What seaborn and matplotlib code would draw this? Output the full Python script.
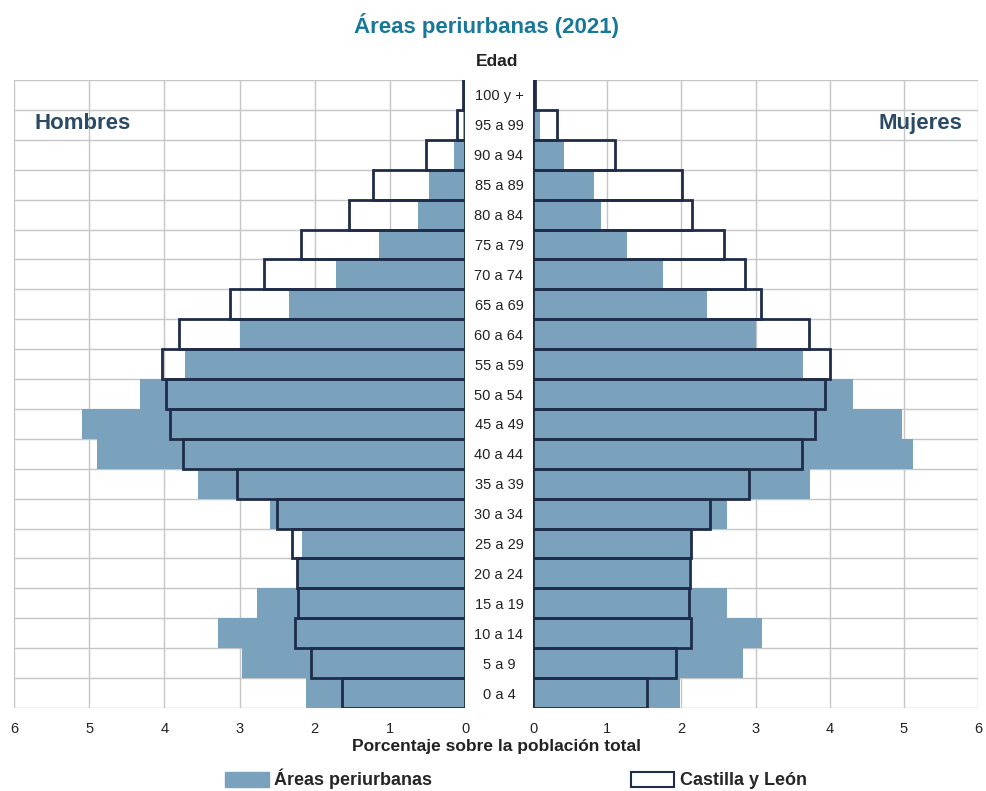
import pandas as pd
import matplotlib.pyplot as plt
import seaborn as sns
from matplotlib.patches import Patch

# Datos (porcentaje sobre la población total), de 100 y + a 0 a 4
edades = ['100 y +', '95 a 99', '90 a 94', '85 a 89', '80 a 84', '75 a 79',
          '70 a 74', '65 a 69', '60 a 64', '55 a 59', '50 a 54', '45 a 49',
          '40 a 44', '35 a 39', '30 a 34', '25 a 29', '20 a 24', '15 a 19',
          '10 a 14', '5 a 9', '0 a 4']
hombres_peri = [0.02, 0.02, 0.14, 0.48, 0.63, 1.14, 1.72, 2.34, 2.99, 3.72,
                4.33, 5.09, 4.90, 3.55, 2.59, 2.17, 2.23, 2.77, 3.28, 2.97, 2.11]
hombres_cyl = [0.03, 0.11, 0.52, 1.22, 1.54, 2.18, 2.68, 3.12, 3.80, 4.03,
               3.98, 3.92, 3.75, 3.03, 2.50, 2.30, 2.24, 2.22, 2.26, 2.05, 1.63]
mujeres_peri = [0.02, 0.10, 0.42, 0.82, 0.92, 1.27, 1.75, 2.34, 3.00, 3.64,
                4.31, 4.98, 5.12, 3.73, 2.62, 2.13, 2.11, 2.62, 3.09, 2.83, 1.98]
mujeres_cyl = [0.03, 0.33, 1.10, 2.01, 2.15, 2.57, 2.86, 3.07, 3.72, 4.01,
               3.94, 3.80, 3.63, 2.91, 2.38, 2.13, 2.12, 2.11, 2.13, 1.93, 1.54]

df = pd.DataFrame({'edad': edades, 'h_peri': hombres_peri, 'h_cyl': hombres_cyl,
                   'm_peri': mujeres_peri, 'm_cyl': mujeres_cyl})

azul = '#7aa2bd'
marino = '#1f2d4a'
gris = '#c6c6c6'
titulo_col = '#18789a'
sexo_col = '#2b4a66'

sns.set_style('white')
plt.rcParams['font.family'] = ['Liberation Sans', 'DejaVu Sans']

fig = plt.figure(figsize=(9.86, 7.91), dpi=100)
ax_h = fig.add_axes([14 / 986, 1 - 708 / 791, 451 / 986, 628 / 791])
ax_m = fig.add_axes([533 / 986, 1 - 708 / 791, 445 / 986, 628 / 791])

for ax, peri, cyl in [(ax_h, 'h_peri', 'h_cyl'), (ax_m, 'm_peri', 'm_cyl')]:
    sns.barplot(data=df, x=peri, y='edad', order=edades, ax=ax, color=azul,
                saturation=1, width=1, linewidth=0)
    sns.barplot(data=df, x=cyl, y='edad', order=edades, ax=ax, fill=False,
                color=marino, edgecolor=marino, width=1, linewidth=2)
    ax.set_ylim(len(edades) - 0.5, -0.5)
    ax.set_xticks(range(0, 7))
    ax.set_yticks([i - 0.5 for i in range(len(edades) + 1)], minor=True)
    ax.grid(True, axis='x', which='major', color=gris, lw=1)
    ax.grid(True, axis='y', which='minor', color=gris, lw=1)
    ax.set_axisbelow(True)
    ax.set_xlabel('')
    ax.set_ylabel('')
    for s in ax.spines.values():
        s.set_visible(False)
    ax.tick_params(axis='x', length=4, color=gris, labelsize=10.5, pad=6,
                   labelcolor='#222222')
    ax.tick_params(axis='y', which='both', length=0)

ax_h.set_xlim(6, 0)
ax_h.set_yticks([])
ax_m.set_xlim(0, 6)
ax_m.set_yticks(range(len(edades)))
ax_m.set_yticklabels(edades, fontsize=10.5, ha='center', color='#222222',
                     va='center_baseline')
ax_m.tick_params(axis='y', which='major', pad=24.5)

ax_h.text(0.045, 0.93, 'Hombres', transform=ax_h.transAxes, fontsize=16,
          fontweight='bold', color=sexo_col, va='center', ha='left')
ax_m.text(0.965, 0.93, 'Mujeres', transform=ax_m.transAxes, fontsize=16,
          fontweight='bold', color=sexo_col, va='center', ha='right')

fig.text(487 / 986, 1 - 25 / 791, 'Áreas periurbanas (2021)', ha='center', va='center',
         fontsize=16, fontweight='bold', color=titulo_col)
fig.text(497 / 986, 1 - 62 / 791, 'Edad', ha='center', va='center',
         fontsize=12.5, fontweight='bold', color='#222222')
fig.text(497 / 986, 1 - 747 / 791, 'Porcentaje sobre la población total',
         ha='center', va='center', fontsize=12.5, fontweight='bold', color='#222222')

handles = [Patch(facecolor=azul, edgecolor=azul, label='Áreas periurbanas'),
           Patch(facecolor='white', edgecolor=marino, lw=1.5, label='Castilla y León')]
fig.legend(handles=handles, loc='center', bbox_to_anchor=(516 / 986, 1 - 779 / 791),
           ncol=2, frameon=False, columnspacing=11, handlelength=2.4, handleheight=0.9,
           handletextpad=0.3, prop={'weight': 'bold', 'size': 13})

plt.savefig('out.png', dpi=100)
